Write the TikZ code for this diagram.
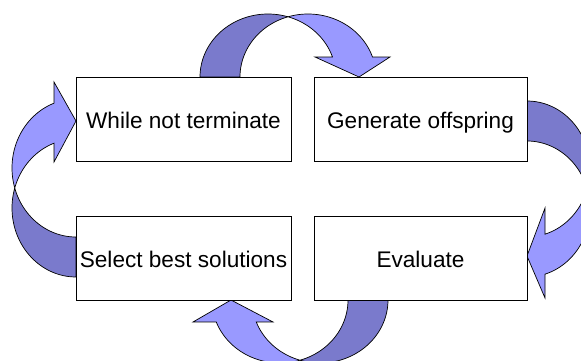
\documentclass[tikz,border=0pt]{standalone}
\usepackage{fontspec}
\setmainfont{Liberation Sans}
\definecolor{ribbonlight}{RGB}{153,153,255}
\definecolor{ribbondark}{RGB}{122,122,204}
\begin{document}
\begin{tikzpicture}[x=1pt,y=-1pt,
  box/.style={draw=black, line width=0.8pt, fill=white, minimum width=#1,
    minimum height=84pt, inner sep=0pt, text height=18pt, text depth=0pt,
    font=\fontsize{22.6}{27}\selectfont},
  ribbonback/.style={fill=ribbondark, draw=black, line width=0.7pt, line join=round},
  ribbonfront/.style={fill=ribbonlight, draw=black, line width=0.7pt, line join=miter},
  arc/.style={variable=\t, samples=48},
]
\useasboundingbox (0,0) rectangle (581,361);
\clip (0,0) rectangle (581,361);

% top: While not terminate -> Generate offspring
\path[ribbonback]
  plot[arc, domain=180:287.1] ({268+68*cos(\t)},{77+63*sin(\t)})
  -- plot[arc, domain=252.9:180] ({308+68*cos(\t)},{77+63*sin(\t)}) -- cycle;
\path[ribbonfront]
  plot[arc, domain=252.9:341.5] ({308+68*cos(\t)},{77+63*sin(\t)})
  -- (390,57) -- (359,77) -- (315,57)
  -- plot[arc, domain=341.5:287.1] ({268+68*cos(\t)},{77+63*sin(\t)}) -- cycle;

% right: Generate offspring -> Evaluate
\path[ribbonback]
  plot[arc, domain=-90:17.1] ({527+63*cos(\t)},{169+68*sin(\t)})
  -- plot[arc, domain=-17.1:-90] ({527+63*cos(\t)},{209+68*sin(\t)}) -- cycle;
\path[ribbonfront]
  plot[arc, domain=-17.1:73.4] ({527+63*cos(\t)},{209+68*sin(\t)})
  -- (545,298) -- (527,256) -- (545,208)
  -- plot[arc, domain=73.4:17.1] ({527+63*cos(\t)},{169+68*sin(\t)}) -- cycle;

% bottom: Evaluate -> Select best solutions
\path[ribbonback]
  plot[arc, domain=0:107.1] ({320+68*cos(\t)},{300+63*sin(\t)})
  -- plot[arc, domain=72.9:0] ({280+68*cos(\t)},{300+63*sin(\t)}) -- cycle;
\path[ribbonfront]
  plot[arc, domain=72.9:159.6] ({280+68*cos(\t)},{300+63*sin(\t)})
  -- (193,322) -- (231,300) -- (273,322)
  -- plot[arc, domain=159.6:107.1] ({320+68*cos(\t)},{300+63*sin(\t)}) -- cycle;

% left: Select best solutions -> While not terminate
\path[ribbonback]
  plot[arc, domain=90:196.85] ({76+64*cos(\t)},{208+69*sin(\t)})
  -- plot[arc, domain=163.15:90] ({76+64*cos(\t)},{168+69*sin(\t)}) -- cycle;
\path[ribbonfront]
  plot[arc, domain=163.15:249.9] ({76+64*cos(\t)},{168+69*sin(\t)})
  -- (54,82) -- (76,121) -- (54,162)
  -- plot[arc, domain=249.9:196.85] ({76+64*cos(\t)},{208+69*sin(\t)}) -- cycle;

% the four steps
\node[box=215pt] (wnt) at (183.5,119) {While not terminate};
\node[box=213pt] (gen) at (420.5,119) {Generate offspring};
\node[box=213pt] (eva) at (420.5,258.5) {Evaluate};
\node[box=215pt] (sel) at (183.5,258.5) {Select best solutions};
\end{tikzpicture}
\end{document}
